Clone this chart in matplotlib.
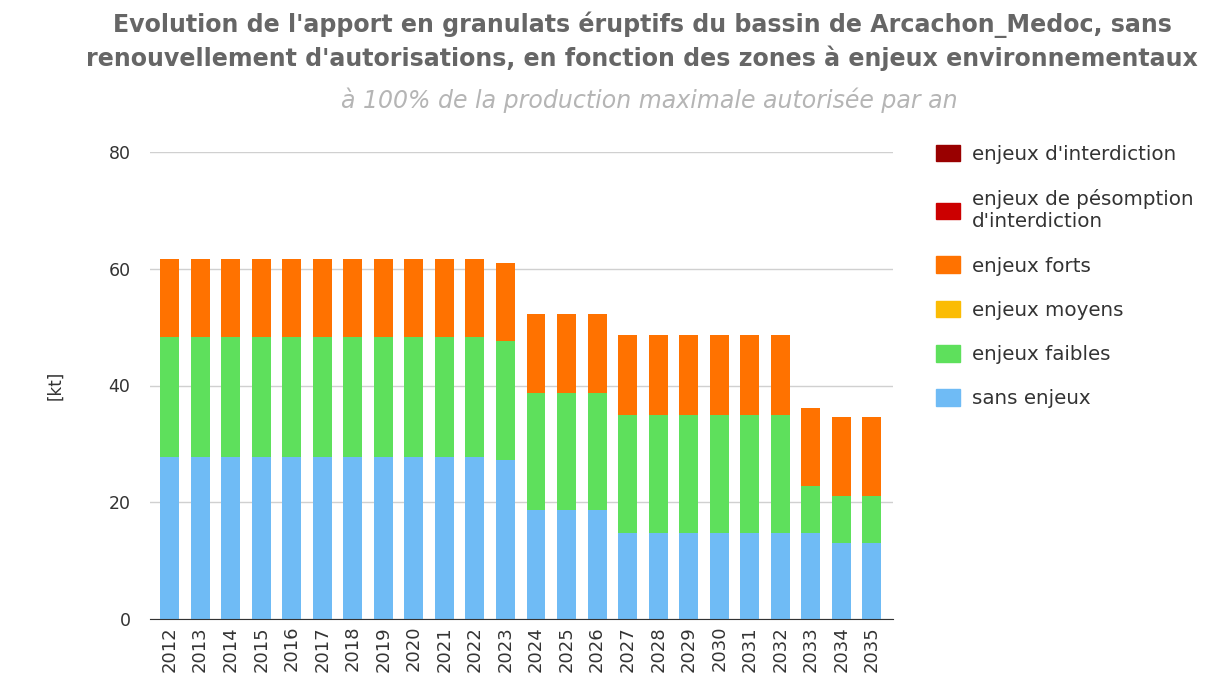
import numpy as np
import matplotlib
matplotlib.use("Agg")
import matplotlib.pyplot as plt
from matplotlib.patches import Patch

years = [str(y) for y in range(2012, 2036)]

# stacked values [kt]
sans_enjeux = [27.7] * 11 + [27.3] + [18.7] * 3 + [14.7] * 6 + [14.7] + [13.0] * 2
enjeux_faibles = [20.6] * 11 + [20.3] + [20.0] * 3 + [20.3] * 6 + [8.0] + [8.0] * 2
enjeux_moyens = [0.0] * 24
enjeux_forts = [13.3] * 11 + [13.4] + [13.6] * 3 + [13.6] * 6 + [13.5] + [13.6] * 2
enjeux_presomption = [0.0] * 24
enjeux_interdiction = [0.0] * 24

series = [
    ("sans enjeux", sans_enjeux, "#6fbbf5"),
    ("enjeux faibles", enjeux_faibles, "#5ee05c"),
    ("enjeux moyens", enjeux_moyens, "#fbbc04"),
    ("enjeux forts", enjeux_forts, "#ff7200"),
    ("enjeux de pésomption\nd'interdiction", enjeux_presomption, "#cc0000"),
    ("enjeux d'interdiction", enjeux_interdiction, "#990000"),
]

plt.rcParams["font.family"] = ["DejaVu Sans"]

fig = plt.figure(figsize=(12.05, 6.83), dpi=100)
ax = fig.add_axes([150 / 1205, 64 / 683, 743 / 1205, 467 / 683])

x = np.arange(len(years))
bottom = np.zeros(len(years))
for label, vals, color in series:
    vals = np.array(vals)
    ax.bar(x, vals, width=0.62, bottom=bottom, color=color, label=label, zorder=2)
    bottom += vals

ax.set_ylim(0, 80)
ax.set_xlim(-0.64, 23.69)
ax.set_yticks([0, 20, 40, 60, 80])
ax.set_xticks(x)
ax.set_xticklabels(years, rotation=90, fontsize=13, color="#333333")
ax.tick_params(axis="y", length=0, labelsize=12.5, labelcolor="#333333", pad=14)
ax.tick_params(axis="x", length=0, pad=5)
ax.grid(axis="y", color="#d0d0d0", linewidth=1, zorder=0)
for s in ("top", "right", "left"):
    ax.spines[s].set_visible(False)
ax.spines["bottom"].set_color("#333333")
ax.spines["bottom"].set_zorder(3)
ax.set_ylabel("[kt]", fontsize=12, color="#333333", labelpad=32)

tx = 642 / 1205
fig.text(tx, 1 - 25 / 683, "Evolution de l'apport en granulats éruptifs du bassin de Arcachon_Medoc, sans",
         ha="center", va="center", fontsize=17.1, fontweight="bold", color="#666666")
fig.text(tx, 1 - 58 / 683, "renouvellement d'autorisations, en fonction des zones à enjeux environnementaux",
         ha="center", va="center", fontsize=17.1, fontweight="bold", color="#666666")
fig.text(649 / 1205, 1 - 100 / 683, "à 100% de la production maximale autorisée par an",
         ha="center", va="center", fontsize=17, style="italic", color="#b5b5b5")

handles = [Patch(color=c, label=l) for l, v, c in reversed(series)]
fig.legend(handles=handles, loc="upper left", bbox_to_anchor=(918 / 1205, 1 - 127 / 683),
           frameon=False, fontsize=14.3, labelcolor="#333333",
           handlelength=1.2, handleheight=0.9, handletextpad=0.6, labelspacing=1.27)

fig.savefig("out.png", dpi=100)
